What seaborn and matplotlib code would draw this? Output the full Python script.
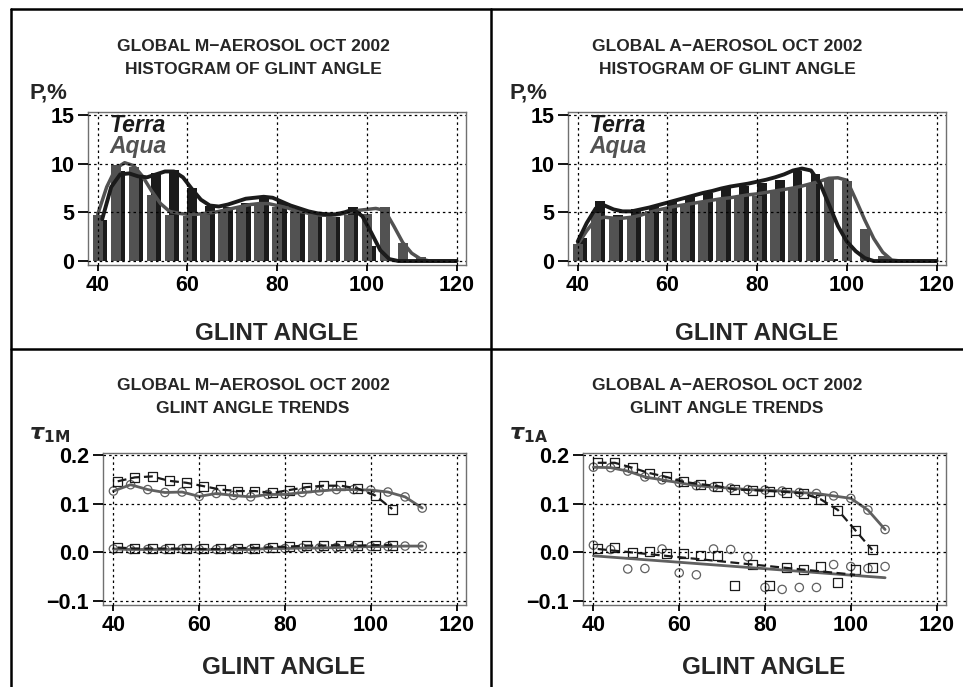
import numpy as np
import pandas as pd
import matplotlib
matplotlib.use('Agg')
import matplotlib.pyplot as plt
import seaborn as sns
from matplotlib.lines import Line2D
from matplotlib import font_manager

# ---- histogram data (P, %) ----
aqua_bins_m = [40, 44, 48, 52, 56, 60, 64, 68, 72, 76, 80, 84, 88, 92, 96, 100, 104, 108, 112]
aqua_hist_m = [4.7, 9.9, 9.7, 6.8, 4.7, 4.6, 4.7, 5.2, 5.6, 6.0, 5.5, 5.1, 4.7, 4.5, 4.7, 4.8, 5.6, 1.9, 0.4]
terra_bins_m = [41, 45, 49, 53, 57, 61, 65, 69, 73, 77, 81, 85, 89, 93, 97, 101, 105]
terra_hist_m = [4.2, 9.2, 8.5, 9.0, 9.3, 7.5, 5.7, 5.6, 6.0, 6.6, 6.1, 5.3, 4.9, 4.5, 5.6, 1.5, 0.2]

aqua_bins_a = [40, 44, 48, 52, 56, 60, 64, 68, 72, 76, 80, 84, 88, 92, 96, 100, 104, 108]
aqua_hist_a = [1.7, 4.9, 4.3, 4.6, 5.1, 5.4, 5.8, 6.1, 6.5, 6.6, 6.7, 7.1, 7.5, 7.9, 8.4, 8.2, 3.3, 0.5]
terra_bins_a = [41, 45, 49, 53, 57, 61, 65, 69, 73, 77, 81, 85, 89, 93, 97]
terra_hist_a = [2.4, 6.2, 4.7, 5.3, 5.7, 6.1, 6.6, 7.0, 7.5, 7.7, 8.0, 8.3, 9.2, 8.9, 0.2]

# smoothed curves
terra_cx_m = [41, 43, 45, 47, 49, 51, 53, 55, 57, 59, 61, 63, 65, 67, 69, 71, 73, 75, 77, 79, 81,
              83, 85, 87, 89, 91, 93, 95, 97, 99, 101, 103, 105, 107, 120]
terra_cy_m = [4.3, 7.6, 8.9, 9.0, 8.7, 8.6, 8.9, 9.2, 9.2, 8.6, 7.4, 6.3, 5.7, 5.6, 5.8, 6.1, 6.4, 6.5, 6.6, 6.5, 6.1,
              5.7, 5.4, 5.1, 4.9, 4.8, 4.8, 5.0, 5.3, 4.6, 2.9, 1.1, 0.2, 0.0, 0.0]
aqua_cx_m = [40, 42, 44, 46, 48, 50, 52, 54, 56, 58, 60, 62, 64, 66, 68, 70, 72, 74, 76, 78, 80,
             82, 84, 86, 88, 90, 92, 94, 96, 98, 100, 102, 104, 106, 108, 110, 112, 114, 120]
aqua_cy_m = [4.8, 7.6, 9.5, 10.1, 9.8, 8.7, 7.2, 5.9, 5.1, 4.9, 4.8, 4.8, 4.9, 5.0, 5.2, 5.4, 5.6, 5.8, 5.9, 5.9, 5.7,
             5.5, 5.2, 5.0, 4.8, 4.7, 4.7, 4.8, 5.0, 5.2, 5.3, 5.4, 5.2, 3.6, 1.9, 0.8, 0.2, 0.0, 0.0]

terra_cx_a = [40, 42, 44, 46, 48, 50, 52, 54, 56, 58, 60, 62, 64, 66, 68, 70, 72, 74, 76, 78, 80,
              82, 84, 86, 88, 90, 92, 94, 96, 98, 100, 102, 104, 106, 120]
terra_cy_a = [2.0, 3.9, 5.4, 5.7, 5.3, 5.1, 5.1, 5.3, 5.5, 5.75, 6.0, 6.25, 6.5, 6.75, 7.0, 7.2, 7.45, 7.65, 7.8, 7.95, 8.15,
              8.35, 8.6, 8.9, 9.3, 9.5, 9.3, 8.0, 5.8, 3.6, 2.0, 1.0, 0.3, 0.0, 0.0]
aqua_cx_a = [40, 42, 44, 46, 48, 50, 52, 54, 56, 58, 60, 62, 64, 66, 68, 70, 72, 74, 76, 78, 80,
             82, 84, 86, 88, 90, 92, 94, 96, 98, 100, 102, 104, 106, 108, 110, 112, 120]
aqua_cy_a = [1.7, 3.1, 4.3, 4.5, 4.4, 4.4, 4.5, 4.7, 5.0, 5.25, 5.45, 5.65, 5.8, 5.95, 6.1, 6.25, 6.4, 6.5, 6.65, 6.8, 6.9,
             7.05, 7.2, 7.35, 7.5, 7.7, 7.95, 8.2, 8.5, 8.55, 8.3, 6.3, 4.2, 2.3, 0.9, 0.1, 0.0, 0.0]

# ---- trend data (tau) ----
terra_ang = [41, 45, 49, 53, 57, 61, 65, 69, 73, 77, 81, 85, 89, 93, 97, 101, 105]
aqua_ang_m = [40, 44, 48, 52, 56, 60, 64, 68, 72, 76, 80, 84, 88, 92, 96, 100, 104, 108, 112]
aqua_ang_a = [40, 44, 48, 52, 56, 60, 64, 68, 72, 76, 80, 84, 88, 92, 96, 100, 104, 108]

terra_tau_m = [0.146, 0.154, 0.156, 0.147, 0.143, 0.136, 0.129, 0.126, 0.126, 0.122, 0.128, 0.134, 0.137, 0.137, 0.131, 0.117, 0.089]
aqua_tau_m = [0.126, 0.139, 0.129, 0.123, 0.124, 0.115, 0.121, 0.117, 0.114, 0.119, 0.119, 0.123, 0.126, 0.129, 0.129, 0.128, 0.124, 0.114, 0.091]
terra_low_m = [0.010, 0.008, 0.008, 0.008, 0.007, 0.007, 0.007, 0.009, 0.009, 0.011, 0.012, 0.014, 0.014, 0.015, 0.014, 0.015, 0.015]
aqua_low_m = [0.007, 0.006, 0.006, 0.006, 0.007, 0.006, 0.006, 0.006, 0.006, 0.008, 0.008, 0.009, 0.009, 0.010, 0.011, 0.012, 0.012, 0.013, 0.013]

terra_tau_a = [0.184, 0.184, 0.174, 0.163, 0.155, 0.145, 0.140, 0.136, 0.129, 0.128, 0.126, 0.124, 0.121, 0.109, 0.087, 0.046, 0.005]
aqua_tau_a = [0.175, 0.174, 0.167, 0.155, 0.149, 0.143, 0.137, 0.134, 0.132, 0.129, 0.128, 0.126, 0.123, 0.121, 0.116, 0.111, 0.087, 0.047]
terra_low_a = [0.008, 0.010, -0.001, 0.001, -0.003, -0.002, -0.007, -0.007, -0.068, -0.024, -0.067, -0.031, -0.035, -0.028, -0.061, -0.035, -0.031]
aqua_low_a = [0.015, 0.006, -0.034, -0.033, 0.007, -0.042, -0.046, 0.007, 0.006, -0.009, -0.072, -0.076, -0.072, -0.072, -0.025, -0.029, -0.033, -0.029]
# linear fits of the lower A series (end points)
terra_fit_x = [41, 101]
terra_fit_y = [0.007, -0.046]
aqua_fit_x = [40, 108]
aqua_fit_y = [-0.007, -0.052]

BLACK = '#1b1b1b'
GRAY = '#525252'
W, H = 963, 687

sns.set_style('white')
plt.rcParams['font.family'] = ['Liberation Sans', 'DejaVu Sans']
plt.rcParams['font.weight'] = 'bold'
plt.rcParams['mathtext.fontset'] = 'dejavusans'

# narrow face for the panel titles, if there is one
names = {f.name for f in font_manager.fontManager.ttflist}
if 'Liberation Sans Narrow' in names:
    TITLE_FONT, TITLE_SIZE = ['Liberation Sans Narrow'], 14.5
else:
    TITLE_FONT, TITLE_SIZE = ['Liberation Sans'], 12.5

fig = plt.figure(figsize=(W / 100, H / 100), dpi=100)


def px_axes(x0, y0, x1, y1):
    return fig.add_axes([x0 / W, 1 - y1 / H, (x1 - x0) / W, (y1 - y0) / H])


def ftext(x, y, s, **kw):
    fig.text(x / W, 1 - y / H, s, **kw)


def style_axes(ax, yticks, yfmt):
    ax.set_xticks([40, 60, 80, 100, 120])
    ax.set_yticks(yticks)
    ax.set_yticklabels([yfmt(v) for v in yticks])
    ax.grid(True, color='black', linestyle=(0, (2, 2.5)), linewidth=0.9)
    ax.set_axisbelow(False)
    for sp in ax.spines.values():
        sp.set_color('#707070')
        sp.set_linewidth(1.0)
    ax.tick_params(axis='both', labelsize=15.5, width=1.3, colors='black', pad=3)
    ax.tick_params(axis='y', length=7, left=True)
    ax.tick_params(axis='x', length=4.5, bottom=True)
    for lab in ax.get_xticklabels() + ax.get_yticklabels():
        lab.set_fontweight('bold')
    ax.set_xlabel('')
    ax.set_ylabel('')


def hist_panel(ax, tb, th, ab, ah, tcx, tcy, acx, acy):
    for cen, val, col in [(tb, th, BLACK), (ab, ah, GRAY)]:
        edges = [c - 2 for c in cen] + [cen[-1] + 2]
        sns.histplot(x=cen, weights=val, bins=edges, shrink=0.55, color=col,
                     alpha=1, linewidth=0, ax=ax)
    sns.lineplot(x=acx, y=acy, color=GRAY, linewidth=2.5, ax=ax, estimator=None)
    sns.lineplot(x=tcx, y=tcy, color=BLACK, linewidth=2.8, ax=ax, estimator=None)
    ax.set_xlim(37.9, 122.1)
    ax.set_ylim(-0.41, 15.34)
    style_axes(ax, [0, 5, 10, 15], lambda v: '%d' % v)
    ax.text(42.6, 13.3, 'Terra', color=BLACK, fontsize=16.5, fontstyle='italic', fontweight='bold')
    ax.text(42.6, 11.1, 'Aqua', color=GRAY, fontsize=16.5, fontstyle='italic', fontweight='bold')


def trend_series(ax, x, y, color, dashed, marker):
    sns.lineplot(x=x, y=y, color=color, linewidth=2.0 if not dashed else 1.6,
                 linestyle=(0, (4, 2)) if dashed else '-', ax=ax, estimator=None)
    sns.scatterplot(x=x, y=y, marker=marker, s=42 if marker == 's' else 36,
                    facecolor='none', edgecolor=color, linewidth=0.9, ax=ax)


def trend_axes(ax):
    ax.set_xlim(37.5, 122.2)
    ax.set_ylim(-0.108, 0.2035)
    style_axes(ax, [-0.1, 0.0, 0.1, 0.2], lambda v: ('%.1f' % v).replace('-', '\u2212'))


# --- top left: M histogram
ax1 = px_axes(88.3, 111.7, 466, 265)
hist_panel(ax1, terra_bins_m, terra_hist_m, aqua_bins_m, aqua_hist_m,
           terra_cx_m, terra_cy_m, aqua_cx_m, aqua_cy_m)

# --- top right: A histogram
ax2 = px_axes(568.3, 111.7, 946, 265)
hist_panel(ax2, terra_bins_a, terra_hist_a, aqua_bins_a, aqua_hist_a,
           terra_cx_a, terra_cy_a, aqua_cx_a, aqua_cy_a)

# --- bottom left: M trends
ax3 = px_axes(102.7, 453.3, 466, 605)
trend_series(ax3, aqua_ang_m, aqua_tau_m, '#606060', False, 'o')
trend_series(ax3, terra_ang, terra_tau_m, BLACK, True, 's')
trend_series(ax3, aqua_ang_m, aqua_low_m, '#606060', False, 'o')
trend_series(ax3, terra_ang, terra_low_m, BLACK, True, 's')
trend_axes(ax3)

# --- bottom right: A trends
ax4 = px_axes(582.7, 453.3, 946, 605)
trend_series(ax4, aqua_ang_a, aqua_tau_a, '#606060', False, 'o')
trend_series(ax4, terra_ang, terra_tau_a, BLACK, True, 's')
sns.scatterplot(x=aqua_ang_a, y=aqua_low_a, marker='o', s=36, facecolor='none',
                edgecolor='#606060', linewidth=0.9, ax=ax4)
sns.scatterplot(x=terra_ang, y=terra_low_a, marker='s', s=42, facecolor='none',
                edgecolor=BLACK, linewidth=0.9, ax=ax4)
sns.lineplot(x=aqua_fit_x, y=aqua_fit_y, color='#606060', linewidth=2.0, ax=ax4)
sns.lineplot(x=terra_fit_x, y=terra_fit_y, color=BLACK, linewidth=1.6,
             linestyle=(0, (4, 2)), ax=ax4)
trend_axes(ax4)

# --- texts
tkw = dict(ha='center', va='baseline', fontsize=TITLE_SIZE, family=TITLE_FONT, fontweight='bold')
for cx, name in [(253, 'M'), (727, 'A')]:
    ftext(cx, 51, 'GLOBAL %s\u2212AEROSOL OCT 2002' % name, **tkw)
    ftext(cx, 74, 'HISTOGRAM OF GLINT ANGLE', **tkw)
    ftext(cx, 390, 'GLOBAL %s\u2212AEROSOL OCT 2002' % name, **tkw)
    ftext(cx, 413, 'GLINT ANGLE TRENDS', **tkw)

ftext(29, 98, 'P,%', fontsize=16, va='baseline')
ftext(509, 98, 'P,%', fontsize=16, va='baseline')
ftext(29, 439, r'$\tau_{\mathbf{1M}}$', fontsize=16, va='baseline')
ftext(509, 439, r'$\tau_{\mathbf{1A}}$', fontsize=16, va='baseline')

for cx in [277, 757]:
    ftext(cx, 333, 'GLINT ANGLE', ha='center', va='center', fontsize=17.5)
for cx in [284, 764]:
    ftext(cx, 668, 'GLINT ANGLE', ha='center', va='center', fontsize=17.5)

# --- panel frame
frame = dict(color='black', linewidth=1.8, transform=fig.transFigure)
fig.add_artist(Line2D([11 / W, 11 / W], [0, 1 - 9 / H], **frame))
fig.add_artist(Line2D([11 / W, 1], [1 - 9 / H, 1 - 9 / H], **frame))
fig.add_artist(Line2D([491 / W, 491 / W], [0, 1 - 9 / H], **frame))
fig.add_artist(Line2D([11 / W, 1], [1 - 349 / H, 1 - 349 / H], **frame))

fig.savefig('out.png', dpi=100)
